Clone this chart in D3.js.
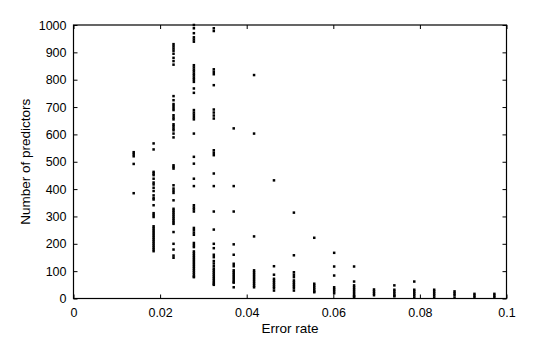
<!DOCTYPE html>
<html><head><meta charset="utf-8">
<script src="https://cdn.jsdelivr.net/npm/d3@7"></script>
<style>
html,body{margin:0;padding:0;background:#fff;}
svg{display:block;font-family:"Liberation Sans",Arial,Helvetica,sans-serif;}
</style></head>
<body><svg id="c" width="560" height="337"></svg>
<script>
// Error rate of each column of points
const errorRates = [0.0139,0.0185,0.0231,0.0278,0.0324,0.0370,0.0417,0.0463,0.0509,0.0556,0.0602,0.0648,0.0694,0.0741,0.0787,0.0833,0.0880,0.0926,0.0972];
// Number of predictors observed at each error rate
const predictors = [
  [535,528,520,492,385],
  [567,545,463,457,451,438,424,417,405,393,377,367,362,341,312,305,298,264,257,250,243,236,229,222,215,208,201,194,187,180,173],
  [930,922,914,906,895,880,868,855,740,725,711,704,696,689,670,662,655,637,630,622,615,603,589,487,481,475,414,402,394,386,359,328,321,314,307,300,293,286,279,273,243,200,179,157,149],
  [1000,988,970,955,947,939,853,845,837,830,822,815,807,800,792,768,752,689,680,672,663,655,603,518,493,438,411,341,333,326,318,258,250,241,233,203,195,188,172,165,158,151,144,137,130,123,116,109,102,95,88,81,78],
  [988,978,838,829,820,780,691,680,669,658,542,533,524,457,411,318,252,200,184,160,151,137,128,118,109,102,95,88,81,74,67,60,54,50],
  [622,411,318,198,160,127,118,103,96,89,82,75,68,61,58,41],
  [817,603,227,103,96,89,82,75,68,61,54,47,41],
  [432,118,87,72,65,58,51,44,38,29],
  [314,158,96,87,78,66,59,52,45,38,29],
  [222,54,47,40,33,26,23],
  [167,117,84,41,34,27,19],
  [117,62,48,41,34,27,20,13,8,5],
  [33,26,19,12],
  [48,32,25,18,11,8],
  [62,32,25,18,11,3],
  [32,25,18,11,3],
  [26,19,12,3],
  [17,10,3],
  [17,10,3]
];
const xTicks = [0,0.02,0.04,0.06,0.08,0.1];
const xTickLabels = ["0","0.02","0.04","0.06","0.08","0.1"];
const yTicks = [0,100,200,300,400,500,600,700,800,900,1000];

const points = [];
errorRates.forEach((e,i)=>predictors[i].forEach(p=>points.push({e,p})));

const svg = d3.select("#c");
const m = {left:73.5, right:506.5, top:25, bottom:298.5};
const x = d3.scaleLinear().domain([0,0.1]).range([m.left,m.right]);
const y = d3.scaleLinear().domain([0,1000]).range([m.bottom,m.top]);
const fs = "12.5px";

function styleAxis(g){
  g.select(".domain").remove();
  g.selectAll(".tick line").attr("stroke","#000").attr("stroke-width",1);
  g.selectAll(".tick text").attr("fill","#000").style("font-size",fs).style("font-family","'Liberation Sans',Arial,sans-serif");
}
svg.append("g").attr("transform",`translate(0,${m.bottom})`)
  .call(d3.axisBottom(x).tickValues(xTicks).tickFormat((d,i)=>xTickLabels[i]).tickSize(-4).tickPadding(10))
  .call(styleAxis);
svg.append("g").attr("transform",`translate(0,${m.top})`)
  .call(d3.axisTop(x).tickValues(xTicks).tickFormat("").tickSize(-4))
  .call(styleAxis);
svg.append("g").attr("transform",`translate(${m.left},0)`)
  .call(d3.axisLeft(y).tickValues(yTicks).tickFormat(d3.format("d")).tickSize(-4).tickPadding(7))
  .call(styleAxis);
svg.append("g").attr("transform",`translate(${m.right},0)`)
  .call(d3.axisRight(y).tickValues(yTicks).tickFormat("").tickSize(-4))
  .call(styleAxis);

svg.append("rect").attr("x",m.left).attr("y",m.top)
  .attr("width",m.right-m.left).attr("height",m.bottom-m.top)
  .attr("fill","none").attr("stroke","#000").attr("stroke-width",1.2);

const s = 2.5;
svg.append("g").selectAll("rect").data(points).join("rect")
  .attr("x",d=>x(d.e)-s/2).attr("y",d=>y(d.p)-s/2)
  .attr("width",s).attr("height",s).attr("fill","#000");

svg.append("text").attr("x",(m.left+m.right)/2).attr("y",333)
  .attr("text-anchor","middle").style("font-size","13.5px").text("Error rate");
svg.append("text").attr("transform",`translate(30,${(m.top+m.bottom)/2}) rotate(-90)`)
  .attr("text-anchor","middle").style("font-size","13.5px").text("Number of predictors");
</script></body></html>
